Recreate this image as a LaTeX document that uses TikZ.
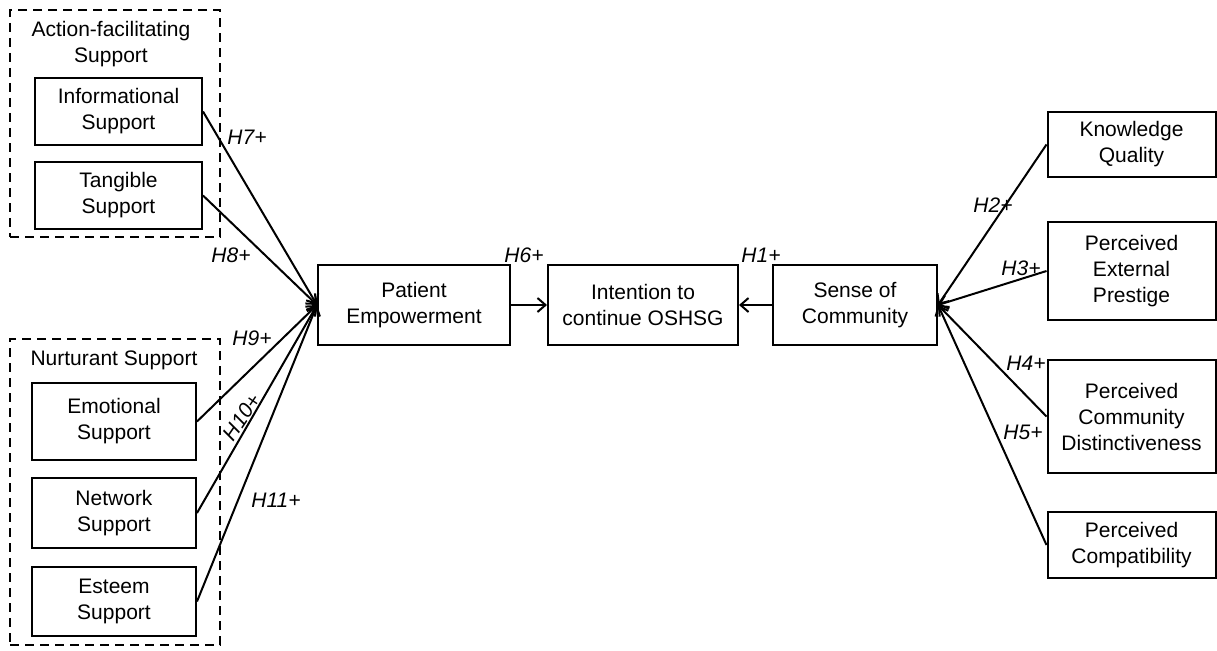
\documentclass[tikz,border=0pt]{standalone}
\usepackage{fontspec}
\setmainfont{Liberation Sans}
\usetikzlibrary{arrows.meta}
\begin{document}
\begin{tikzpicture}[x=1pt,y=-1pt,
  box/.style={draw, line width=2pt, align=center, inner sep=0pt, font=\fontsize{21}{26}\selectfont},
  grp/.style={draw, line width=2pt, dash pattern=on 9pt off 6pt, inner sep=0pt},
  ttl/.style={align=center, inner sep=0pt, font=\fontsize{21}{26}\selectfont},
  hyp/.style={inner sep=0pt, font=\fontsize{21}{24}\selectfont\itshape},
  arr/.style={line width=2pt, -{Straight Barb[length=8pt,width=14pt,line width=2pt]}}]
\useasboundingbox (0,0) rectangle (1217,650);
% groups
\node[grp, minimum width=210pt, minimum height=227pt] (afs) at (115,123.5) {};
\node[grp, minimum width=210pt, minimum height=306pt] (ns) at (115,492) {};
\node[ttl] (afst) at (111,44.5) {Action-facilitating\\Support};
\node[ttl] (nst) at (114,360) {Nurturant Support};
% left boxes
\node[box, minimum width=167pt, minimum height=67pt] (info) at (118.5,111.5) {Informational\\Support};
\node[box, minimum width=167pt, minimum height=67pt] (tang) at (118.5,195.5) {Tangible\\Support};
\node[box, minimum width=164pt, minimum height=77pt] (emo) at (114,421.5) {Emotional\\Support};
\node[box, minimum width=164pt, minimum height=70pt] (net) at (114,513) {Network\\Support};
\node[box, minimum width=164pt, minimum height=69pt] (est) at (114,601.5) {Esteem\\Support};
% centre
\node[box, minimum width=192pt, minimum height=80pt] (pe) at (414,305) {Patient\\Empowerment};
\node[box, minimum width=190pt, minimum height=80pt] (int) at (643,305) {Intention to\\continue OSHSG};
\node[box, minimum width=164pt, minimum height=80pt] (soc) at (855,305) {Sense of\\Community};
% right boxes
\node[box, minimum width=168pt, minimum height=65pt] (kq) at (1131.5,144.5) {Knowledge\\Quality};
\node[box, minimum width=168pt, minimum height=98pt] (pep) at (1131.5,271) {Perceived\\External\\Prestige};
\node[box, minimum width=168pt, minimum height=113pt] (pcd) at (1131.5,416.5) {Perceived\\Community\\Distinctiveness};
\node[box, minimum width=168pt, minimum height=66pt] (pc) at (1131.5,545) {Perceived\\Compatibility};
% connectors
\draw[arr] (info.east) -- (pe.west);
\draw[arr] (tang.east) -- (pe.west);
\draw[arr] (emo.east) -- (pe.west);
\draw[arr] (net.east) -- (pe.west);
\draw[arr] (est.east) -- (pe.west);
\draw[arr] (pe.east) -- (int.west);
\draw[arr] (soc.west) -- (int.east);
\draw[arr] (kq.west) -- (soc.east);
\draw[arr] (pep.west) -- (soc.east);
\draw[arr] (pcd.west) -- (soc.east);
\draw[arr] (pc.west) -- (soc.east);
% hypothesis labels
\node[hyp] (h7) at (247,137) {H7+};
\node[hyp] (h8) at (231,255) {H8+};
\node[hyp] (h9) at (252,338) {H9+};
\node[hyp, rotate=56] (h10) at (242,417) {H10+};
\node[hyp] (h11) at (276,500) {H11+};
\node[hyp] (h6) at (524,255) {H6+};
\node[hyp] (h1) at (761,255) {H1+};
\node[hyp] (h2) at (993,205) {H2+};
\node[hyp] (h3) at (1021,268) {H3+};
\node[hyp] (h4) at (1026,363) {H4+};
\node[hyp] (h5) at (1023,432) {H5+};
\end{tikzpicture}
\end{document}
